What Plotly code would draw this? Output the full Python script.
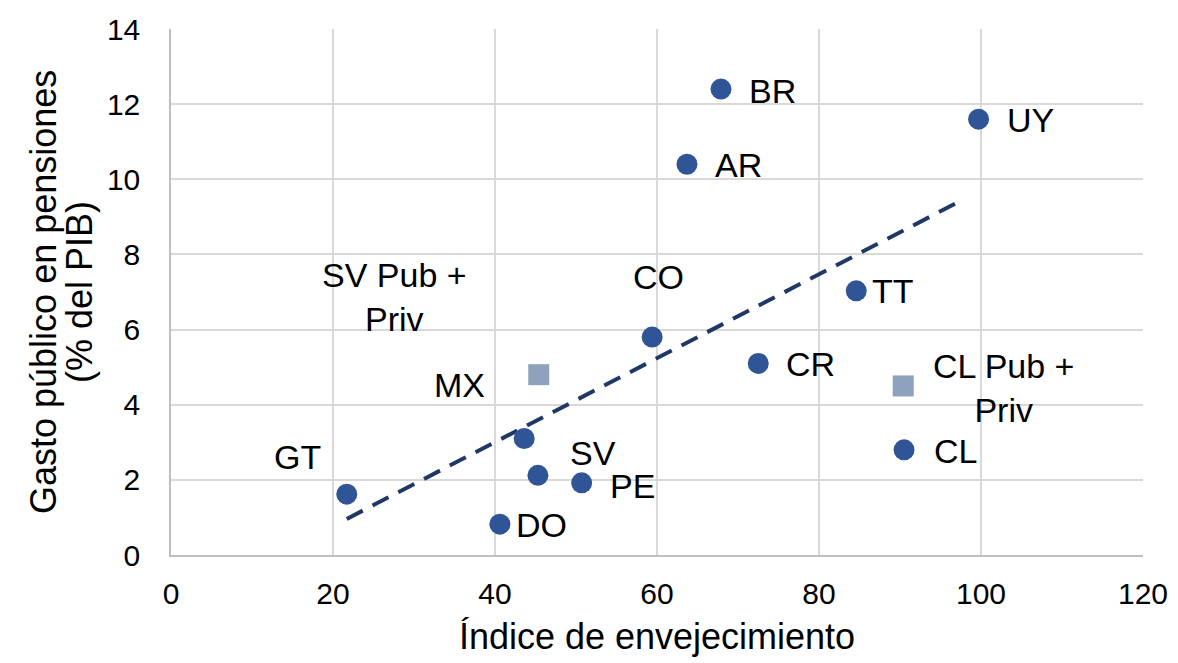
import plotly.graph_objects as go

# data
pub_labels = ["BR", "UY", "AR", "TT", "CO", "CR", "MX", "SV", "PE", "CL", "GT", "DO"]
pub_x = [67.9, 99.7, 63.7, 84.6, 59.4, 72.5, 43.6, 45.3, 50.7, 90.5, 21.7, 40.6]
pub_y = [12.4, 11.6, 10.4, 7.03, 5.8, 5.1, 3.1, 2.12, 1.92, 2.8, 1.62, 0.82]

mix_labels = ["SV Pub +<br>Priv", "CL Pub +<br>Priv"]
mix_x = [45.4, 90.4]
mix_y = [4.8, 4.5]

trend_x = [21.7, 97.7]
trend_y = [0.96, 9.45]

y_title_lines = ["Gasto público en pensiones", "(% del PIB)"]

# label offsets in pixels (xshift, yshift), style only
pub_shift = [(52, -2), (52, -1), (52, -1), (37, 0), (6, 60), (52, -1),
             (-65, 54), (55, 22), (51, -3), (51, -1), (-49, 37), (42, -1)]
mix_shift = [(-144, 78), (100, -2)]
y_title_shift = [-128, -92]

FONT = "Liberation Sans, Arial, sans-serif"

fig = go.Figure()
fig.add_trace(go.Scatter(x=trend_x, y=trend_y, mode="lines",
                         line=dict(color="#203864", width=4, dash="18px,11px")))
fig.add_trace(go.Scatter(x=mix_x, y=mix_y, mode="markers",
                         marker=dict(symbol="square", size=21, color="#8EA1BD")))
fig.add_trace(go.Scatter(x=pub_x, y=pub_y, mode="markers",
                         marker=dict(symbol="circle", size=21, color="#2F5597")))

for lab, x, y, (dx, dy) in zip(pub_labels + mix_labels, pub_x + mix_x,
                               pub_y + mix_y, pub_shift + mix_shift):
    fig.add_annotation(x=x, y=y, text=lab, showarrow=False, xshift=dx, yshift=dy,
                       xanchor="center", yanchor="middle", align="center",
                       font=dict(family=FONT, size=34, color="black"))

# y axis title, one rotated annotation per line for the tight line spacing
for line, dx in zip(y_title_lines, y_title_shift):
    fig.add_annotation(xref="paper", yref="paper", x=0, y=0.5, xshift=dx,
                       text=line, textangle=-90, showarrow=False,
                       xanchor="center", yanchor="middle",
                       font=dict(family=FONT, size=36, color="black"))

# page body has an 8px margin, so margins are shifted to compensate
fig.update_layout(
    width=1178, height=663,
    margin=dict(l=163, r=43, t=21, b=116),
    paper_bgcolor="white", plot_bgcolor="white",
    showlegend=False,
    font=dict(family=FONT, size=30, color="black"),
)
fig.update_xaxes(range=[0, 120], dtick=20, showgrid=True, gridcolor="#D9D9D9", gridwidth=1.5,
                 showline=True, linecolor="#BFBFBF", linewidth=1.5, zeroline=False,
                 ticks="", ticklabelstandoff=11, tickfont=dict(size=30), automargin=False,
                 title=dict(text="Índice de envejecimiento", font=dict(size=36), standoff=15))
fig.update_yaxes(range=[0, 14], dtick=2, showgrid=True, gridcolor="#D9D9D9", gridwidth=1.5,
                 showline=True, linecolor="#BFBFBF", linewidth=1.5, zeroline=False,
                 ticks="", ticklabelstandoff=23, tickfont=dict(size=30), automargin=False)

fig.write_html("out.html")
